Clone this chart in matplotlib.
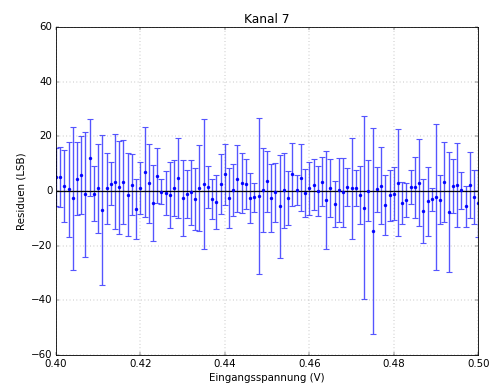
import numpy as np
import matplotlib
matplotlib.use("Agg")
import matplotlib.pyplot as plt

plt.style.use("classic")

# input voltage grid: 0.400 ... 0.500 V in 1 mV steps
spannung = np.round(np.linspace(0.400, 0.500, 101), 3)

residuen = [
    5.2, 5.2, 2.0, 0.6, -2.7, 4.6, 6.0, -1.2, 12.2, -0.9,
    1.0, -6.8, 1.0, 2.7, 3.5, 1.4, 3.4, -1.3, 2.4, -6.6,
    1.2, 7.0, 2.8, -4.4, 5.7, -0.3, -0.7, -1.5, 1.1, 4.7,
    -2.6, -1.2, -0.5, -2.9, 1.2, 2.6, 1.6, -2.8, -4.0, 2.5,
    6.1, -2.5, 0.4, 4.5, 3.0, 2.5, -2.5, -2.2, -1.7, 0.4,
    3.6, -2.5, -0.5, -5.6, 0.3, -2.6, 6.2, 0.5, 4.9, -0.8,
    1.0, 2.3, 0.0, 3.4, -3.3, 1.2, -4.6, 0.4, -0.5, 1.4,
    1.0, 1.0, -1.3, -6.1, 0.2, -14.5, 0.7, 2.0, -5.1, -1.6,
    -1.0, 3.1, -4.3, -3.3, 1.5, 1.4, 3.0, -7.1, -3.7, -2.9,
    -2.1, -3.1, 3.4, -7.6, 2.0, 2.2, 0.3, -5.6, 2.2, -2.1,
    -4.5,
]

fehler = [
    10.5, 11.0, 13.2, 17.5, 26.0, 13.2, 14.2, 22.9, 14.0, 10.1,
    16.3, 27.5, 13.0, 7.9, 17.5, 17.0, 15.3, 15.3, 11.0, 11.1,
    9.5, 16.6, 14.6, 13.9, 10.2, 4.6, 7.9, 12.0, 10.2, 14.6,
    14.0, 8.8, 12.0, 11.2, 15.8, 23.6, 7.6, 7.4, 10.0, 10.9,
    11.2, 11.1, 9.4, 12.2, 11.0, 9.1, 9.3, 5.3, 28.6, 15.2,
    11.1, 12.4, 10.7, 18.8, 13.8, 9.8, 11.5, 5.5, 12.3, 8.7,
    9.7, 9.3, 9.0, 9.0, 18.0, 10.5, 8.4, 11.6, 12.5, 7.0,
    18.6, 6.6, 10.6, 33.5, 11.3, 37.6, 8.2, 14.2, 11.1, 9.2,
    9.7, 19.6, 7.7, 6.2, 6.2, 11.2, 15.9, 11.7, 12.6, 4.2,
    26.7, 8.9, 14.7, 22.0, 9.9, 15.5, 6.7, 7.4, 12.2, 9.9,
    12.2,
]

fig = plt.figure(figsize=(8, 6.4), dpi=61.25)
ax = fig.add_subplot(111)
fig.subplots_adjust(left=0.114, right=0.976, bottom=0.094, top=0.931)

ax.errorbar(spannung, residuen, yerr=fehler, fmt=".", color="b",
            ecolor="#5555ff", elinewidth=1.6, capthick=1.3, capsize=3,
            markersize=7)
ax.axhline(0, color="k", linewidth=1.5)

ax.set_xlim(0.40, 0.50)
ax.set_ylim(-60, 60)
ax.set_xticks([0.40, 0.42, 0.44, 0.46, 0.48, 0.50])
ax.set_yticks([-60, -40, -20, 0, 20, 40, 60])
ax.grid(True, color="0.4")
ax.set_title("Kanal 7")
ax.set_xlabel("Eingangsspannung (V)")
ax.set_ylabel("Residuen (LSB)")

fig.savefig("out.png", dpi=61.25)
